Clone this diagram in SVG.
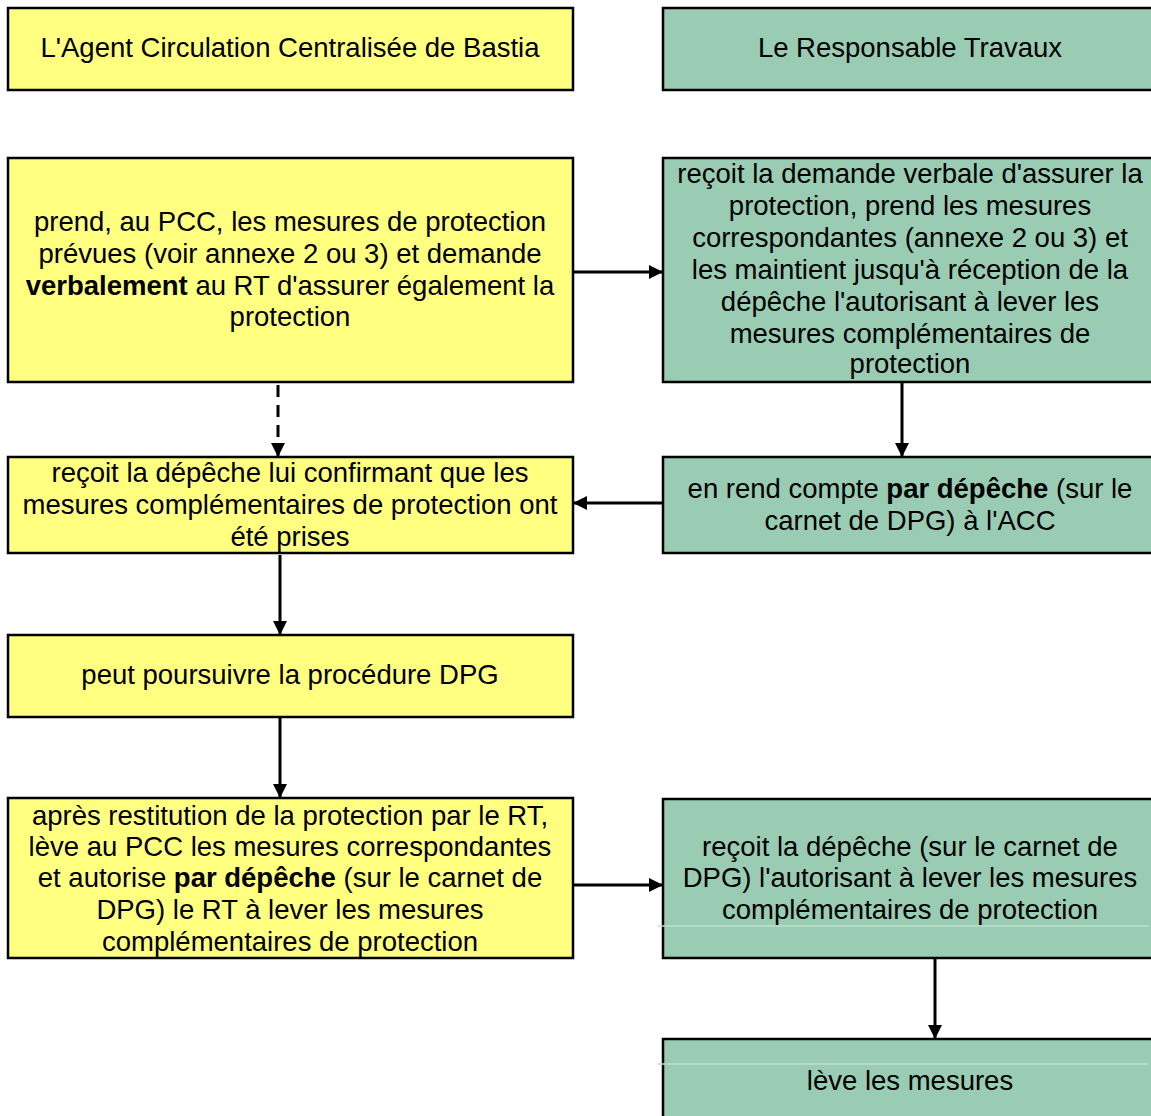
<svg xmlns="http://www.w3.org/2000/svg" width="1151" height="1116" viewBox="0 0 1151 1116">
  <style>
    .acc { fill: #FFFF80; stroke: #000; stroke-width: 2.5; }
    .rt { fill: #99CCB3; stroke: #000; stroke-width: 2.5; }
    text { font-family: "Liberation Sans", Arial, sans-serif; font-size: 27.5px; fill: #000; text-anchor: middle; }
    .b { font-weight: bold; }
    .link { stroke: #000; stroke-width: 3; fill: none; marker-end: url(#head); }
    .dash { stroke-dasharray: 12 8; }
    .seam { stroke: #BFE0CF; stroke-width: 1.5; }
  </style>
  <defs>
    <marker id="head" viewBox="0 0 14 14" refX="14" refY="7" markerWidth="14" markerHeight="14" markerUnits="userSpaceOnUse" orient="auto">
      <path d="M0,0 L14,7 L0,14 Z" fill="#000"/>
    </marker>
  </defs>
  <rect width="1151" height="1116" fill="#fff"/>

  <!-- column headers -->
  <g id="head-acc">
    <rect class="acc" x="8" y="8" width="565" height="82"/>
    <text x="290" y="57">L'Agent Circulation Centralisée de Bastia</text>
  </g>
  <g id="head-rt">
    <rect class="rt" x="663" y="8" width="500" height="82"/>
    <text x="910" y="57">Le Responsable Travaux</text>
  </g>

  <!-- ACC steps -->
  <g id="acc-prend">
    <rect class="acc" x="8" y="158" width="565" height="224"/>
    <text x="290" y="231">prend, au PCC, les mesures de protection</text>
    <text x="290" y="263">prévues (voir annexe 2 ou 3) et demande</text>
    <text x="290" y="295"><tspan class="b">verbalement</tspan> au RT d'assurer également la</text>
    <text x="290" y="326">protection</text>
  </g>
  <g id="acc-recoit">
    <rect class="acc" x="8" y="457" width="565" height="96"/>
    <text x="290" y="482">reçoit la dépêche lui confirmant que les</text>
    <text x="290" y="514">mesures complémentaires de protection ont</text>
    <text x="290" y="546">été prises</text>
  </g>
  <g id="acc-poursuit">
    <rect class="acc" x="8" y="635" width="565" height="82"/>
    <text x="290" y="684">peut poursuivre la procédure DPG</text>
  </g>
  <g id="acc-autorise">
    <rect class="acc" x="8" y="798" width="565" height="160"/>
    <text x="290" y="825">après restitution de la protection par le RT,</text>
    <text x="290" y="856">lève au PCC les mesures correspondantes</text>
    <text x="290" y="887">et autorise <tspan class="b">par dépêche</tspan> (sur le carnet de</text>
    <text x="290" y="919">DPG) le RT à lever les mesures</text>
    <text x="290" y="951">complémentaires de protection</text>
  </g>

  <!-- RT steps -->
  <g id="rt-demande">
    <rect class="rt" x="663" y="158" width="500" height="224"/>
    <text x="910" y="183">reçoit la demande verbale d'assurer la</text>
    <text x="910" y="215">protection, prend les mesures</text>
    <text x="910" y="247">correspondantes (annexe 2 ou 3) et</text>
    <text x="910" y="279">les maintient jusqu'à réception de la</text>
    <text x="910" y="311">dépêche l'autorisant à lever les</text>
    <text x="910" y="343">mesures complémentaires de</text>
    <text x="910" y="373">protection</text>
  </g>
  <g id="rt-compte">
    <rect class="rt" x="663" y="457" width="500" height="96"/>
    <text x="910" y="498">en rend compte <tspan class="b">par dépêche</tspan> (sur le</text>
    <text x="910" y="530">carnet de DPG) à l'ACC</text>
  </g>
  <g id="rt-autorisation">
    <rect class="rt" x="663" y="799" width="500" height="159"/>
    <line class="seam" x1="658" y1="926" x2="1149" y2="926"/>
    <text x="910" y="856">reçoit la dépêche (sur le carnet de</text>
    <text x="910" y="887">DPG) l'autorisant à lever les mesures</text>
    <text x="910" y="919">complémentaires de protection</text>
  </g>
  <g id="rt-leve">
    <rect class="rt" x="663" y="1039" width="500" height="100"/>
    <line class="seam" x1="658" y1="1064" x2="1149" y2="1064"/>
    <text x="910" y="1090">lève les mesures</text>
  </g>

  <!-- connectors -->
  <g id="connectors">
    <line class="link" x1="574" y1="272" x2="663" y2="272"/>
    <line class="link dash" x1="278" y1="385" x2="278" y2="457"/>
    <line class="link" x1="902" y1="383" x2="902" y2="457"/>
    <line class="link" x1="662" y1="503" x2="573" y2="503"/>
    <line class="link" x1="280" y1="555" x2="280" y2="635"/>
    <line class="link" x1="280" y1="718" x2="280" y2="798"/>
    <line class="link" x1="574" y1="885" x2="663" y2="885"/>
    <line class="link" x1="935" y1="959" x2="935" y2="1039"/>
  </g>
</svg>
